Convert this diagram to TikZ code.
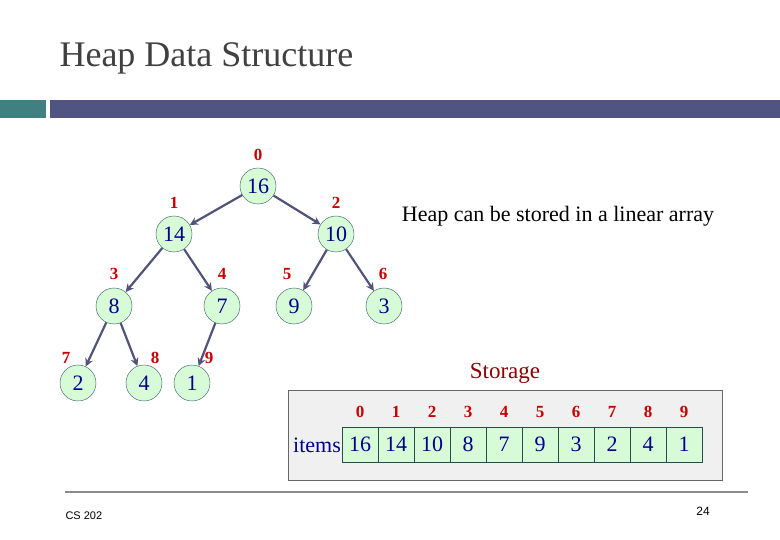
\documentclass[tikz,border=0pt]{standalone}
\usepackage{fontspec}
\setmainfont{Liberation Serif}
\setsansfont{Liberation Sans}
\usetikzlibrary{arrows.meta}
\definecolor{heapteal}{RGB}{64,128,128}
\definecolor{heapbar}{RGB}{80,84,130}
\definecolor{heapgreen}{RGB}{215,250,215}
\definecolor{heapblue}{RGB}{0,0,140}
\definecolor{heapred}{RGB}{200,0,0}
\definecolor{heapedge}{RGB}{80,84,120}
\tikzset{
	heapnode/.style={circle, draw=heapteal!70!black, fill=heapgreen, minimum size=36pt, inner sep=0pt, text=heapblue, font=\fontsize{22}{22}\selectfont},
	idx/.style={text=heapred, font=\fontsize{17}{17}\selectfont\bfseries},
	link/.style={draw=heapedge, line width=2.2pt, -{Stealth[length=8pt,width=8pt]}},
	cell/.style={draw=heapteal!60!black, fill=heapgreen, minimum width=36pt, minimum height=35pt, inner sep=0pt, text=heapblue, font=\fontsize{22}{22}\selectfont}
}
\begin{document}
\begin{tikzpicture}[x=1pt, y=-1pt]
\useasboundingbox (0,0) rectangle (780,540);

% header
\node[anchor=west, font=\fontsize{36}{36}\selectfont, text=black!75] (title) at (56,58) {Heap Data Structure};
\fill[heapteal] (0,100) rectangle (46,118);
\fill[heapbar] (50,100) rectangle (780,118);

% tree
\node[heapnode] (n0) at (258,186) {16};
\node[heapnode] (n1) at (174,234) {14};
\node[heapnode] (n2) at (336,234) {10};
\node[heapnode] (n3) at (114,306) {8};
\node[heapnode] (n4) at (222,306) {7};
\node[heapnode] (n5) at (294,306) {9};
\node[heapnode] (n6) at (384,306) {3};
\node[heapnode] (n7) at (78,383) {2};
\node[heapnode] (n8) at (144,383) {4};
\node[heapnode] (n9) at (192,383) {1};

\foreach \a/\b in {n0/n1, n0/n2, n1/n3, n1/n4, n2/n5, n2/n6, n3/n7, n3/n8, n4/n9}{
	\draw[link] (\a) -- (\b);
}

\foreach \i/\x/\y in {0/258/155, 1/174/203, 2/336/203, 3/114/274, 4/222/274, 5/287/274, 6/383/274, 7/66/358, 8/155/358, 9/209/358}{
	\node[idx] (i\i) at (\x,\y) {\i};
}

\node[font=\fontsize{22}{22}\selectfont] (note) at (558,216) {Heap can be stored in a linear array};

% storage
\node[font=\fontsize{23}{23}\selectfont, text=heapred!70!black] (storage) at (505,373) {Storage};
\draw[black!60, fill=black!6] (288,390) rectangle (722,480);
\node[anchor=east, inner sep=1pt, text=heapblue, font=\fontsize{22}{22}\selectfont] (items) at (342,445) {items};
\foreach \v [count=\k from 0] in {16,14,10,8,7,9,3,2,4,1}{
	\node[cell] (c\k) at (360+36*\k,444.5) {\v};
	\node[idx] (a\k) at (360+36*\k,412) {\k};
}

% footer
\draw[black!45, line width=2pt] (65,492) -- (748,492);
\node[anchor=west, font=\sffamily\fontsize{11}{11}\selectfont] (course) at (62,516) {CS 202};
\node[font=\sffamily\fontsize{12}{12}\selectfont] (page) at (703,511) {24};
\end{tikzpicture}
\end{document}
